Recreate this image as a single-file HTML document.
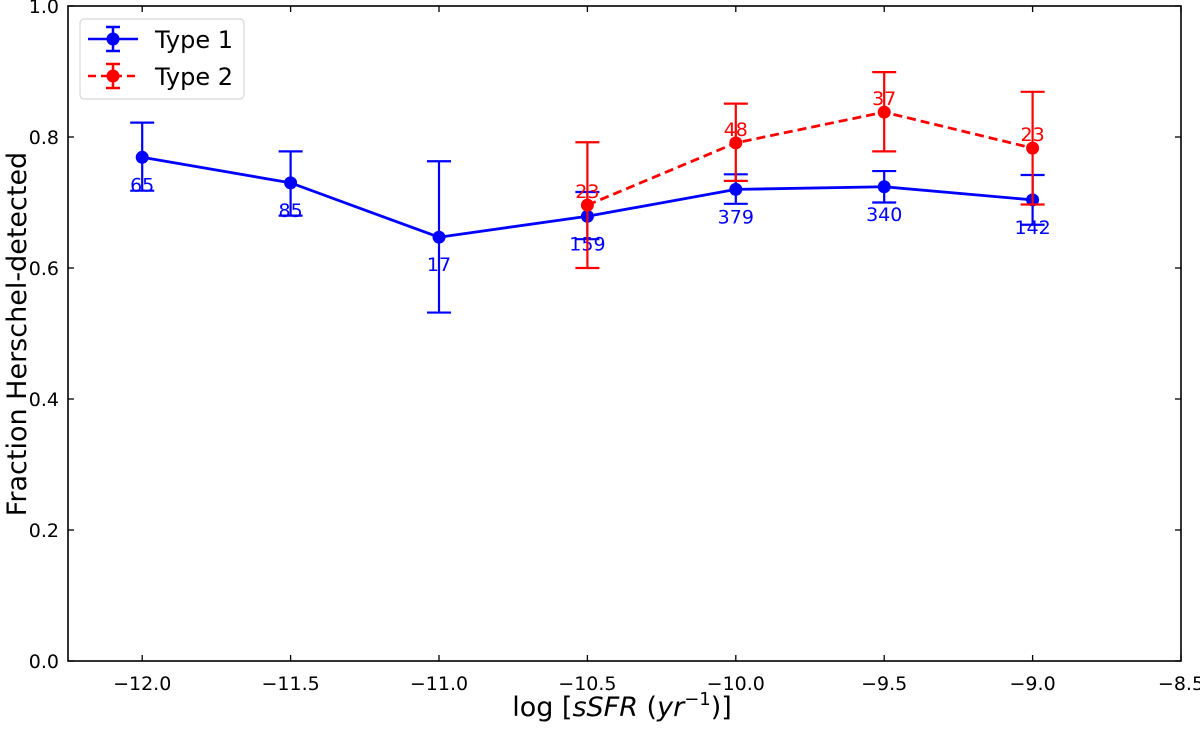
<!DOCTYPE html>
<html><head><meta charset="utf-8"><style>
body{margin:0;background:#fff;}
svg{font-family:"DejaVu Sans","Liberation Sans",sans-serif;}
</style></head><body>
<svg id="chart" width="1200" height="725" xmlns="http://www.w3.org/2000/svg"></svg>
<script>
const xTicks=[-12.0,-11.5,-11.0,-10.5,-10.0,-9.5,-9.0,-8.5];
const yTicks=[0.0,0.2,0.4,0.6,0.8,1.0];
const t1x=[-12.0,-11.5,-11.0,-10.5,-10.0,-9.5,-9.0];
const t1y=[0.769,0.730,0.647,0.679,0.720,0.724,0.704];
const t1lo=[0.718,0.680,0.532,0.644,0.698,0.700,0.666];
const t1hi=[0.822,0.778,0.763,0.716,0.743,0.748,0.742];
const t1n=["65","85","17","159","379","340","142"];
const t2x=[-10.5,-10.0,-9.5,-9.0];
const t2y=[0.696,0.791,0.838,0.783];
const t2lo=[0.600,0.733,0.778,0.697];
const t2hi=[0.792,0.851,0.899,0.869];
const t2n=["23","48","37","23"];
const L=68,R=1181,T=6,B=661,x0=-12.25,x1=-8.5;
const X=v=>L+(v-x0)/(x1-x0)*(R-L);
const Y=v=>B-v*(B-T);
const svg=document.getElementById('chart');
const NS='http://www.w3.org/2000/svg';
function mk(tag,a,txt){const e=document.createElementNS(NS,tag);for(const k in a)e.setAttribute(k,a[k]);if(txt!==undefined)e.textContent=txt;svg.appendChild(e);return e;}
xTicks.forEach(v=>{
 const t=mk('line',{x1:X(v),x2:X(v),y1:B,y2:B-6,stroke:'#000','stroke-width':1.3});
 
 
 const tt=mk('line',{x1:X(v),x2:X(v),y1:T,y2:T+6,stroke:'#000','stroke-width':1.3});
 
 
 const l=mk('text',{x:X(v),y:B+29,'text-anchor':'middle','font-size':19},'\u2212'+Math.abs(v).toFixed(1));
 
 
});
yTicks.forEach(v=>{
 const t=mk('line',{x1:L,x2:L+6,y1:Y(v),y2:Y(v),stroke:'#000','stroke-width':1.3});
 
 
 const tr=mk('line',{x1:R,x2:R-6,y1:Y(v),y2:Y(v),stroke:'#000','stroke-width':1.3});
 
 
 const l=mk('text',{x:L-9,y:Y(v)+7,'text-anchor':'end','font-size':19},v.toFixed(1));
 
 
});
function series(xs,ys,lo,hi,ns,col,dash,below,name){
 const p=mk('polyline',{points:xs.map((v,i)=>X(v)+','+Y(ys[i])).join(' '),fill:'none',stroke:col,'stroke-width':2.8,'stroke-dasharray':dash});
 
 
 xs.forEach((v,i)=>{
  const cx=X(v);
  const g=mk('path',{d:`M${cx},${Y(lo[i])}V${Y(hi[i])}M${cx-12},${Y(lo[i])}H${cx+12}M${cx-12},${Y(hi[i])}H${cx+12}`,stroke:col,'stroke-width':2.2,fill:'none'});
  
  
  const c=mk('circle',{cx:cx,cy:Y(ys[i]),r:6.5,fill:col});
  
  
  const t=mk('text',{x:cx,y:Y(ys[i])+(below?34:-7),'text-anchor':'middle','font-size':19,fill:col},ns[i]);
  
  
 });
}
series(t1x,t1y,t1lo,t1hi,t1n,'#0000ff','',true,'type1');
series(t2x,t2y,t2lo,t2hi,t2n,'#ff0000','9 5',false,'type2');
</script>
<svg width="1200" height="725" style="position:absolute;left:0;top:0" xmlns="http://www.w3.org/2000/svg">
<rect x="68" y="6" width="1113" height="655" fill="none" stroke="#000" stroke-width="1.6"/>
<text x="622" y="716" text-anchor="middle" font-size="27" font-family="DejaVu Sans,sans-serif">log [<tspan font-style="italic">sSFR</tspan> (<tspan font-style="italic">yr</tspan><tspan font-size="18" dy="-11">−1</tspan><tspan dy="11">)]</tspan></text>
<text transform="translate(26,334) rotate(-90)" text-anchor="middle" font-size="27" font-family="DejaVu Sans,sans-serif">Fraction Herschel-detected</text>
<g font-family="DejaVu Sans,sans-serif">
<rect x="80" y="19" width="164" height="80" rx="4" fill="#fff" stroke="#ccc" stroke-width="1"/>
<g>
<path d="M88,39H138M113,27V51M106,27H120M106,51H120" stroke="#0000ff" stroke-width="2.5" fill="none"/>
<circle cx="113" cy="39" r="6.5" fill="#0000ff"/>
<text x="155" y="48" font-size="24">Type 1</text></g>
<g>
<path d="M88,76H138" stroke="#ff0000" stroke-width="2.5" stroke-dasharray="8 5" fill="none"/>
<path d="M113,64V88M106,64H120M106,88H120" stroke="#ff0000" stroke-width="2.5" fill="none"/>
<circle cx="113" cy="76" r="6.5" fill="#ff0000"/>
<text x="155" y="85" font-size="24">Type 2</text></g>
</g>
</svg>
</body></html>
